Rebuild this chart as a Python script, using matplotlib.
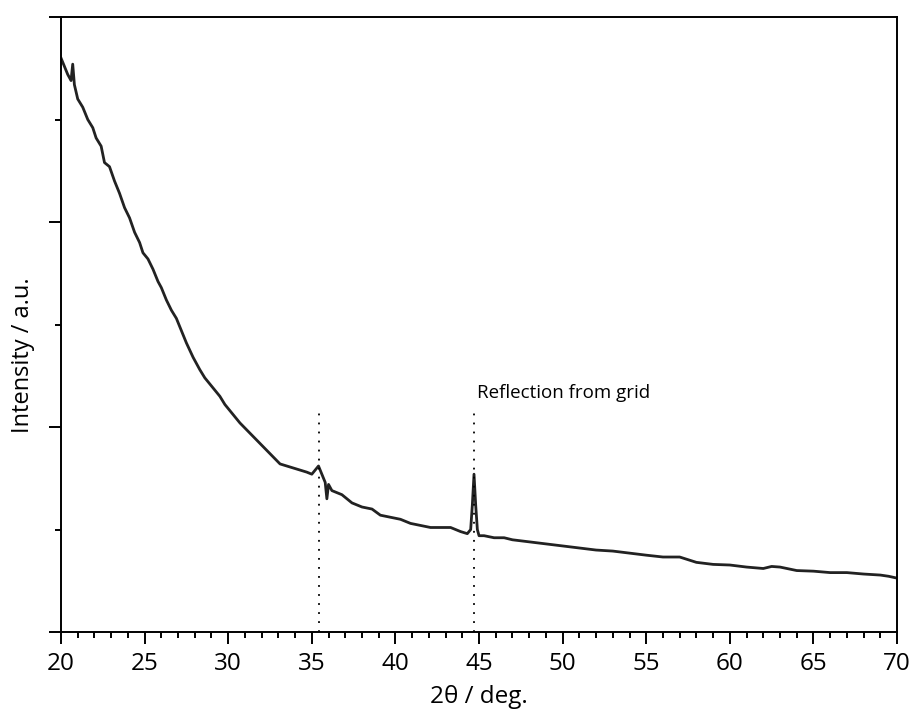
import matplotlib
matplotlib.use("Agg")
from matplotlib import pyplot as plt
from matplotlib.ticker import MultipleLocator, NullFormatter

plt.rcParams['font.family'] = ['Open Sans', 'DejaVu Sans']

# ---- data (2theta in deg, intensity in a.u.) ----
two_theta = [20.0, 20.2, 20.4, 20.6, 20.7, 20.8, 21.0, 21.3, 21.6, 21.9, 22.1, 22.4,
             22.6, 22.9, 23.2, 23.5, 23.8, 24.1, 24.4, 24.7, 24.9, 25.2, 25.5, 25.8,
             26.0, 26.3, 26.6, 26.9, 27.1, 27.5, 27.9, 28.3, 28.6, 28.9, 29.2, 29.5,
             29.8, 30.1, 30.7, 31.3, 31.9, 32.5, 33.1, 33.5, 33.9, 34.3, 34.7, 35.0,
             35.2, 35.4, 35.6, 35.8, 35.9, 36.0, 36.2, 36.8, 37.4, 38.0, 38.6, 39.1,
             39.7, 40.3, 40.9, 41.5, 42.1, 42.7, 43.3, 43.9, 44.3, 44.5, 44.6, 44.7,
             44.8, 44.9, 45.0, 45.3, 45.9, 46.5, 47.0, 48.0, 49.0, 50.0, 51.0, 52.0,
             53.0, 54.0, 55.0, 56.0, 57.0, 58.0, 59.0, 60.0, 61.0, 62.0, 62.5, 63.0,
             64.0, 65.0, 66.0, 67.0, 68.0, 69.0, 69.5, 70.0]
intensity = [2.80, 2.76, 2.72, 2.69, 2.77, 2.67, 2.60, 2.56, 2.50, 2.46, 2.41, 2.37,
             2.29, 2.27, 2.20, 2.14, 2.07, 2.02, 1.95, 1.90, 1.85, 1.82, 1.77, 1.71,
             1.68, 1.62, 1.57, 1.53, 1.49, 1.41, 1.34, 1.28, 1.24, 1.21, 1.18, 1.15,
             1.11, 1.08, 1.02, 0.97, 0.92, 0.87, 0.82, 0.81, 0.80, 0.79, 0.78, 0.77,
             0.79, 0.81, 0.77, 0.73, 0.65, 0.72, 0.69, 0.67, 0.63, 0.61, 0.60, 0.57,
             0.56, 0.55, 0.53, 0.52, 0.51, 0.51, 0.51, 0.49, 0.48, 0.50, 0.62, 0.77,
             0.62, 0.50, 0.47, 0.47, 0.46, 0.46, 0.45, 0.44, 0.43, 0.42, 0.41, 0.40,
             0.395, 0.385, 0.375, 0.366, 0.366, 0.34, 0.33, 0.327, 0.317, 0.31, 0.32, 0.317,
             0.30, 0.297, 0.29, 0.29, 0.283, 0.278, 0.272, 0.263]

peak_positions = [35.4, 44.7]
marker_top = 1.08
note_text = "Reflection from grid"

fig = plt.figure(figsize=(9.12, 7.24), dpi=100)
ax = fig.add_axes([0.0669, 0.127, 0.9167, 0.8495])

ax.plot(two_theta, intensity, color="#222222", lw=2.0)

for p in peak_positions:
    ax.plot([p, p], [0, marker_top], color="black", lw=1.3, ls=(0, (1, 4)))

ax.text(44.85, 1.12, note_text, fontsize=13.5, ha="left", va="bottom")

ax.set_xlim(20, 70)
ax.set_ylim(0, 3)
ax.xaxis.set_major_locator(MultipleLocator(5))
ax.xaxis.set_minor_locator(MultipleLocator(1))
ax.yaxis.set_major_locator(MultipleLocator(1))
ax.yaxis.set_minor_locator(MultipleLocator(0.5))
ax.yaxis.set_major_formatter(NullFormatter())
ax.tick_params(which="major", direction="out", length=8.5, width=1.4, labelsize=17.5, pad=6)
ax.tick_params(which="minor", direction="out", length=4.5, width=1.4)
for s in ax.spines.values():
    s.set_linewidth(1.4)

ax.set_xlabel("2θ / deg.", fontsize=17.5, labelpad=6)
ax.set_ylabel("Intensity / a.u.", fontsize=17)
ax.yaxis.set_label_coords(-0.031, 0.45)

fig.savefig("out.png", dpi=100)
